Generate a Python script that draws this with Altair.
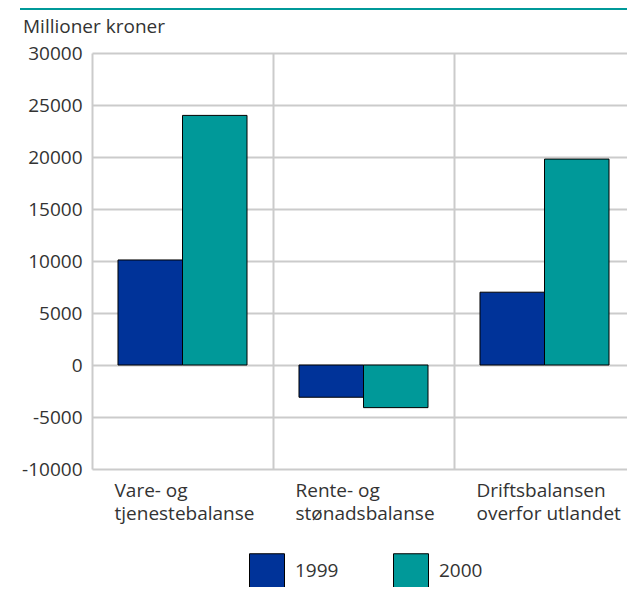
import altair as alt
import pandas as pd

categories = ["Vare- og\ntjenestebalanse", "Rente- og\nstønadsbalanse", "Driftsbalansen\noverfor utlandet"]
years = ["1999", "2000"]
values_1999 = [10100, -3100, 7000]
values_2000 = [24000, -4100, 19800]
y_ticks = [-10000, -5000, 0, 5000, 10000, 15000, 20000, 25000, 30000]
colors = ["#003399", "#009999"]
title_text = "Millioner kroner"

rows = []
for c, v in zip(categories, values_1999):
    rows.append({"kategori": c, "år": "1999", "verdi": v})
for c, v in zip(categories, values_2000):
    rows.append({"kategori": c, "år": "2000", "verdi": v})
df = pd.DataFrame(rows)

FONT = "Open Sans"
TXT = "#333333"
GRID = "#cbcbcb"

bars = alt.Chart(df).mark_bar(stroke="black", strokeWidth=1).encode(
    x=alt.X(
        "kategori:N",
        sort=categories,
        scale=alt.Scale(paddingInner=0, paddingOuter=0),
        axis=alt.Axis(
            title=None,
            grid=True,
            bandPosition=0,
            gridColor=GRID,
            gridWidth=2,
            domain=False,
            ticks=False,
            labelAngle=0,
            labelAlign="left",
            labelBaseline="top",
            labelOffset=-68,
            labelPadding=12,
            labelLineHeight=23,
            labelFontSize=19,
            labelFont=FONT,
            labelColor=TXT,
            labelLimit=300,
            labelOverlap=False,
            labelExpr="split(datum.label, '\\n')",
        ),
    ),
    xOffset=alt.XOffset("år:N", sort=years, scale=alt.Scale(paddingOuter=0.403, paddingInner=0)),
    y=alt.Y(
        "verdi:Q",
        scale=alt.Scale(domain=[-10000, 30000], nice=False),
        axis=alt.Axis(
            title=None,
            values=y_ticks,
            grid=True,
            gridColor=GRID,
            gridWidth=2,
            domain=False,
            ticks=False,
            labelPadding=10,
            labelFontSize=19,
            labelFont=FONT,
            labelColor=TXT,
            labelExpr="datum.value + ''",
        ),
    ),
    color=alt.Color(
        "år:N",
        sort=years,
        scale=alt.Scale(domain=years, range=colors),
        legend=alt.Legend(
            title=None,
            orient="none",
            legendX=157,
            legendY=500,
            direction="horizontal",
            symbolType="square",
            symbolSize=1225,
            symbolStrokeColor="black",
            symbolStrokeWidth=1,
            symbolOpacity=1,
            labelFontSize=19,
            labelFont=FONT,
            labelColor=TXT,
            labelOffset=10,
            columnPadding=52,
            padding=0,
        ),
    ),
)

title = alt.Chart(pd.DataFrame({"t": [title_text]})).mark_text(
    align="left", baseline="alphabetic", fontSize=19, font=FONT, color=TXT
).encode(x=alt.value(-69), y=alt.value(-20), text="t:N")

top_line = alt.Chart(pd.DataFrame({"a": [0]})).mark_rule(color="#009999", strokeWidth=2).encode(
    x=alt.value(-72), x2=alt.value(543), y=alt.value(-44)
)

chart = alt.layer(bars, title, top_line).properties(
    width=543,
    height=416,
    autosize=alt.AutoSizeParams(type="none"),
    padding={"left": 84, "top": 45, "right": -8, "bottom": 118},
).configure_view(stroke=None)

chart.save("out.html", embed_options={"renderer": "svg", "actions": False})
